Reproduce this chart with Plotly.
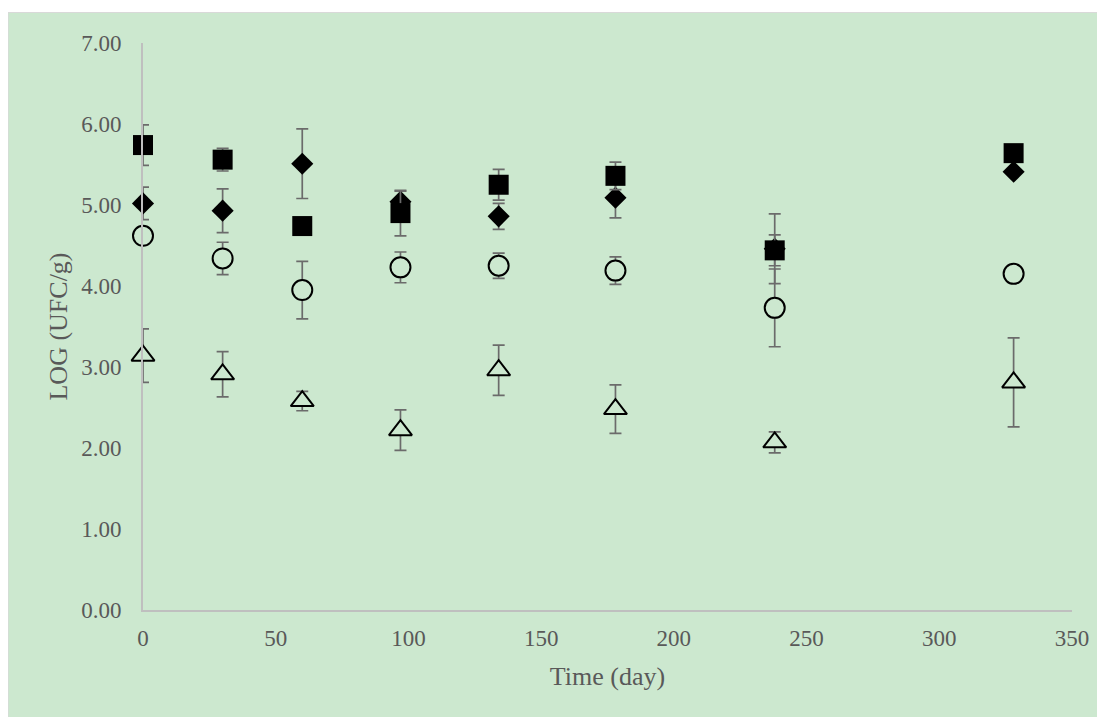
import plotly.graph_objects as go

days = [0, 30, 60, 97, 134, 178, 238, 328]

diamond_vals = [5.02, 4.93, 5.51, 5.04, 4.86, 5.09, 4.46, 5.41]
diamond_err = [0.20, 0.27, 0.43, 0.13, 0.16, 0.25, 0.43, 0.0]

square_vals = [5.74, 5.56, 4.74, 4.90, 5.25, 5.36, 4.44, 5.64]
square_err = [0.25, 0.14, 0.0, 0.28, 0.19, 0.17, 0.19, 0.0]

circle_vals = [4.62, 4.34, 3.95, 4.23, 4.25, 4.19, 3.73, 4.15]
circle_err = [0.0, 0.20, 0.355, 0.19, 0.155, 0.17, 0.48, 0.0]

triangle_vals = [3.14, 2.91, 2.58, 2.22, 2.96, 2.48, 2.07, 2.81]
triangle_err = [0.33, 0.28, 0.12, 0.25, 0.31, 0.30, 0.13, 0.55]

x_ticks = [0, 50, 100, 150, 200, 250, 300, 350]
y_ticks = [0, 1, 2, 3, 4, 5, 6, 7]
y_tick_labels = ["0.00", "1.00", "2.00", "3.00", "4.00", "5.00", "6.00", "7.00"]

GREEN = "#CCE8CF"
ERR_COLOR = "#6b6b6b"
TEXT = "#595959"
FONT = "Liberation Serif"


def err(v):
    return dict(type="data", array=v, visible=True, color=ERR_COLOR, thickness=1.7, width=6)


fig = go.Figure()
fig.add_trace(go.Scatter(x=days, y=diamond_vals, mode="markers", error_y=err(diamond_err), cliponaxis=False,
                         marker=dict(symbol="diamond", size=17, color="black", line=dict(width=0))))
fig.add_trace(go.Scatter(x=days, y=square_vals, mode="markers", error_y=err(square_err), cliponaxis=False,
                         marker=dict(symbol="square", size=20, color="black", line=dict(width=0))))
fig.add_trace(go.Scatter(x=days, y=circle_vals, mode="markers", error_y=err(circle_err), cliponaxis=False,
                         marker=dict(symbol="circle", size=20, color=GREEN, line=dict(width=2, color="black"))))
fig.add_trace(go.Scatter(x=days, y=triangle_vals, mode="markers", error_y=err(triangle_err), cliponaxis=False,
                         marker=dict(symbol="triangle-up", size=20, color=GREEN, line=dict(width=2, color="black"))))

fig.add_shape(type="rect", xref="paper", yref="paper", x0=-0.1453, x1=1.08, y0=-0.25, y1=1.0538,
              fillcolor=GREEN, line=dict(color="#d9d9d9", width=1.2), layer="below")

fig.update_layout(
    width=1105, height=717,
    margin=dict(l=135, r=41, t=35, b=115),
    paper_bgcolor="white",
    plot_bgcolor="rgba(0,0,0,0)",
    showlegend=False,
    font=dict(family=FONT, color=TEXT, size=23),
    xaxis=dict(range=[0, 350], tickvals=x_ticks, showgrid=False, zeroline=False,
               showline=True, linecolor="#bfbfbf", linewidth=1.6, ticks="",
               ticklabelstandoff=7, tickfont=dict(size=23, color=TEXT, family=FONT),
               title=dict(text="Time (day)", font=dict(size=26, color=TEXT, family=FONT), standoff=16)),
    yaxis=dict(range=[0, 7], tickvals=y_ticks, ticktext=y_tick_labels, showgrid=False, zeroline=False,
               showline=True, linecolor="#bfbfbf", linewidth=1.6, ticks="",
               ticklabelstandoff=15, tickfont=dict(size=23, color=TEXT, family=FONT),
               title=dict(text="LOG (UFC/g)", font=dict(size=26, color=TEXT, family=FONT), standoff=6)),
)

fig.write_html("out.html")
